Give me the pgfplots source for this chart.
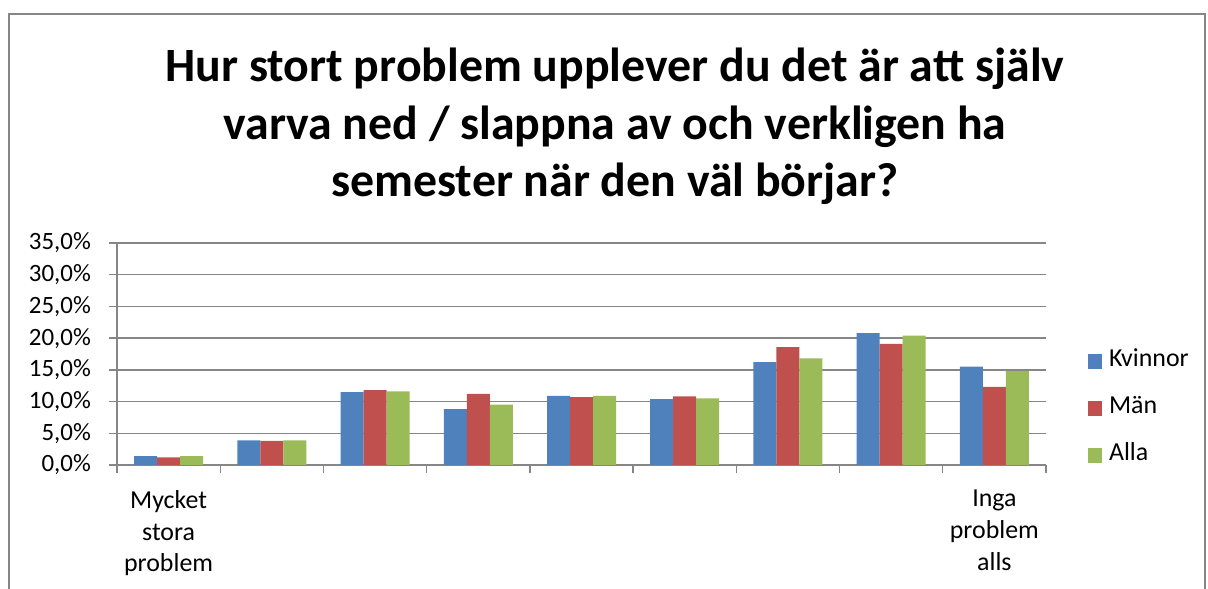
\documentclass[border=0pt]{standalone}
\usepackage{fontspec}
\setmainfont{Carlito}
\usepackage{pgfplots}
\pgfplotsset{compat=1.18}

\definecolor{kvinnor}{HTML}{4F81BD}
\definecolor{man}{HTML}{C0504D}
\definecolor{alla}{HTML}{9BBB59}
\definecolor{gridgray}{HTML}{868686}

\begin{document}
\begin{tikzpicture}[x=1bp,y=1bp]
\useasboundingbox (-117,-124) rectangle (1091,465);
\draw[gridgray, line width=1.5bp] (-108,451) rectangle (1088,-140);
\begin{axis}[
    at={(0,0)}, anchor=south west,
    scale only axis,
    width=929bp, height=222bp,
    ybar=0pt, bar width=23bp,
    xmin=-0.5, xmax=8.5,
    ymin=0, ymax=35,
    ytick={0,5,...,35},
    xtick={-0.5,0.5,...,8.5},
    xticklabels={},
    extra x ticks={0,8},
    extra x tick labels={Mycket\\stora\\problem, Inga\\problem\\alls},
    extra x tick style={major tick length=0pt},
    xticklabel style={align=center, anchor=north, inner sep=0pt,
        font=\fontsize{26}{32}\selectfont, yshift=-25bp},
    /pgf/number format/assume math mode=true,
    yticklabel={\pgfmathprintnumber[fixed,fixed zerofill,precision=1,use comma]{\tick}\%},
    yticklabel style={anchor=east, inner sep=0pt, font=\fontsize{25}{29}\selectfont, xshift=-18bp},
    axis x line*=bottom, axis y line*=left,
    axis line style={gridgray, line width=1.3bp},
    tick style={gridgray, line width=1.3bp},
    tick align=outside, major tick length=8bp,
    ymajorgrids=true,
    grid style={gridgray, line width=1.3bp},
    legend style={at={(1.045,0.52)}, anchor=north west, draw=none, fill=none,
        font=\fontsize{26}{30}\selectfont, row sep=24bp, column sep=7bp,
        inner sep=0pt, nodes={inner sep=0pt, text height=17bp, text depth=6bp}},
    legend cell align=left,
    legend image code/.code={\fill[#1] (0bp,-7.5bp) rectangle (14bp,7.5bp);},
]
\addplot[fill=kvinnor, draw=none] coordinates {(0,1.4) (1,3.9) (2,11.5) (3,8.8) (4,10.9) (5,10.4) (6,16.2) (7,20.8) (8,15.5)};
\addlegendentry{Kvinnor}
\addplot[fill=man, draw=none] coordinates {(0,1.2) (1,3.8) (2,11.8) (3,11.2) (4,10.7) (5,10.8) (6,18.6) (7,19.1) (8,12.3)};
\addlegendentry{Män}
\addplot[fill=alla, draw=none] coordinates {(0,1.4) (1,3.9) (2,11.6) (3,9.5) (4,10.9) (5,10.5) (6,16.8) (7,20.4) (8,14.8)};
\addlegendentry{Alla}
\end{axis}
\node[anchor=base, align=center, font=\fontsize{48}{58}\selectfont\bfseries] at (498,268)
  {Hur stort problem upplever du det är att själv\\varva ned / slappna av och verkligen ha\\semester när den väl börjar?};
\end{tikzpicture}
\end{document}
